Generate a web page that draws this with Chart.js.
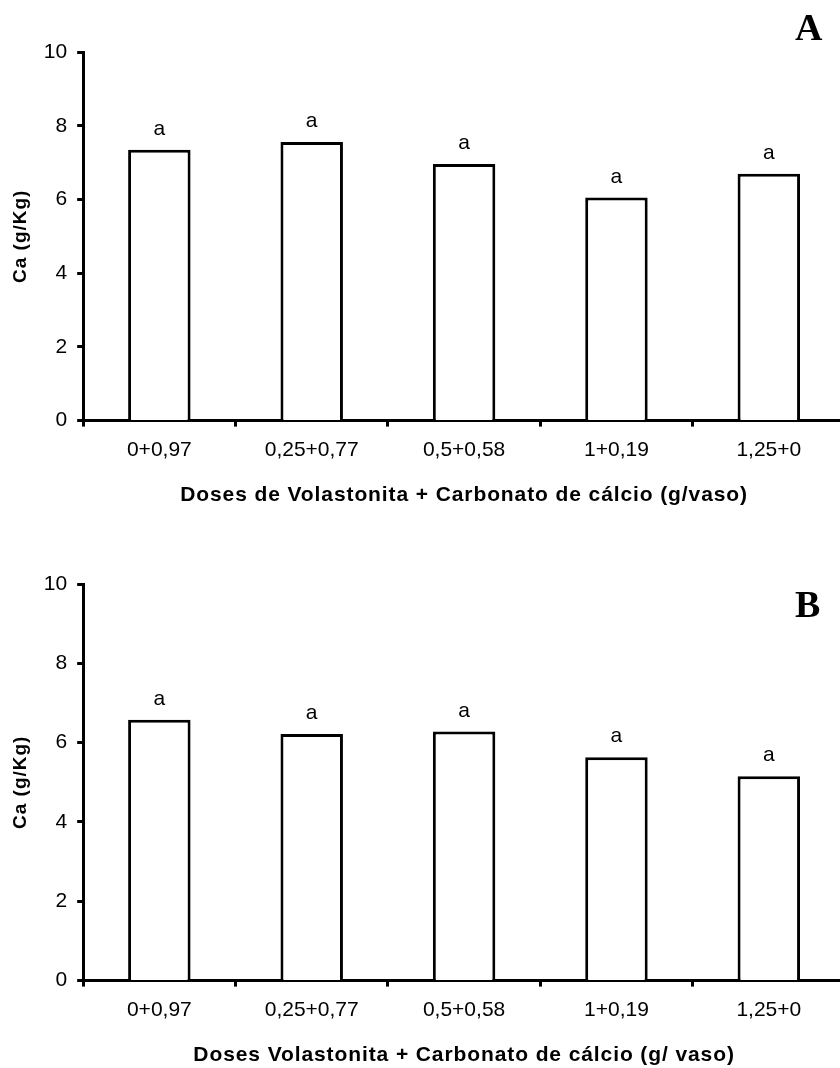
<!DOCTYPE html>
<html><head><meta charset="utf-8">
<script src="https://cdn.jsdelivr.net/npm/chart.js@4/dist/chart.umd.min.js"></script>
<style>
html,body{margin:0;padding:0;background:#fff;overflow:hidden;width:840px;height:1068px;position:relative;}
canvas{position:absolute;left:0;}
</style></head><body>
<canvas id="cA" width="846" height="534" style="top:0"></canvas>
<canvas id="cB" width="846" height="534" style="top:534px"></canvas>
<script>
const categories = ['0+0,97', '0,25+0,77', '0,5+0,58', '1+0,19', '1,25+0'];
const caA = [7.35, 7.56, 6.96, 6.05, 6.70];
const caB = [6.58, 6.22, 6.28, 5.63, 5.15];
const lettersA = ['a', 'a', 'a', 'a', 'a'];
const lettersB = ['a', 'a', 'a', 'a', 'a'];
const yTicks = [0, 2, 4, 6, 8, 10];
const yTitle = 'Ca (g/Kg)';
const xTitleA = 'Doses de Volastonita + Carbonato de cálcio (g/vaso)';
const xTitleB = 'Doses Volastonita + Carbonato de cálcio (g/ vaso)';

const SANS = '"Liberation Sans", Arial, sans-serif';
const X_TITLE_FONT = { family: SANS, size: 21, weight: 'bold' };
const Y_TITLE_FONT = { family: SANS, size: 19, weight: 'bold' };

const annot = {
  id: 'annot',
  afterDatasetsDraw(chart, args, opts) {
    const ctx = chart.ctx;
    const meta = chart.getDatasetMeta(0);
    ctx.save();
    ctx.fillStyle = '#000';
    ctx.font = '21px ' + SANS;
    ctx.textAlign = 'center';
    ctx.textBaseline = 'alphabetic';
    meta.data.forEach((bar, i) => ctx.fillText(opts.letters[i], bar.x, bar.y - 15));
    ctx.font = 'bold 38px "Liberation Serif", "Times New Roman", serif';
    ctx.textAlign = 'left';
    ctx.fillText(opts.panel, opts.px, opts.py);
    ctx.restore();
  },
  afterDraw(chart, args, opts) {
    const ctx = chart.ctx;
    const xs = chart.scales.x, ys = chart.scales.y;
    const ca = chart.chartArea;
    ctx.save();
    ctx.fillStyle = '#000';
    ctx.textAlign = 'center';
    ctx.textBaseline = 'middle';
    if ('letterSpacing' in ctx) ctx.letterSpacing = '0.9px';
    // x title
    const xf = Chart.helpers.toFont(xs.options.title.font);
    const xp = Chart.helpers.toPadding(xs.options.title.padding);
    ctx.font = xf.string;
    ctx.fillText(xs.options.title.text, (ca.left + ca.right) / 2, xs.bottom - xf.lineHeight / 2 - xp.bottom);
    // y title
    const yf = Chart.helpers.toFont(ys.options.title.font);
    const yp = Chart.helpers.toPadding(ys.options.title.padding);
    ctx.font = yf.string;
    if ('letterSpacing' in ctx) ctx.letterSpacing = '1px';
    ctx.translate(ys.left + yf.lineHeight / 2 + yp.top, (ca.top + ca.bottom) / 2);
    ctx.rotate(-Math.PI / 2);
    ctx.fillText(ys.options.title.text, 0, 0);
    ctx.restore();
  }
};

function makeChart(id, values, letters, xTitle, panel, py, padTop, padBottom) {
  return new Chart(document.getElementById(id), {
    type: 'bar',
    data: {
      labels: categories,
      datasets: [{
        data: values,
        backgroundColor: '#ffffff',
        borderColor: '#000000',
        borderWidth: 3,
        categoryPercentage: 1,
        barPercentage: 0.41
      }]
    },
    plugins: [annot],
    options: {
      responsive: false,
      animation: false,
      events: [],
      layout: { padding: { top: padTop, bottom: padBottom, left: 9, right: 1 } },
      plugins: {
        legend: { display: false },
        tooltip: { enabled: false },
        annot: { letters: letters, panel: panel, px: 795, py: py }
      },
      scales: {
        x: {
          grid: { display: true, drawOnChartArea: false, drawTicks: true, tickLength: 6, tickWidth: 3, tickColor: '#000', offset: true },
          border: { display: true, color: '#000', width: 3 },
          ticks: { color: '#000', font: { family: SANS, size: 21 }, padding: 11, maxRotation: 0 },
          title: { display: true, text: xTitle, color: 'rgba(0,0,0,0)', font: X_TITLE_FONT, padding: { top: 9, bottom: 0 } }
        },
        y: {
          min: 0, max: 10,
          afterBuildTicks: (s) => { s.ticks = yTicks.map(v => ({ value: v })); },
          grid: { display: true, drawOnChartArea: false, drawTicks: true, tickLength: 6, tickWidth: 3, tickColor: '#000' },
          border: { display: true, color: '#000', width: 3 },
          ticks: { color: '#000', font: { family: SANS, size: 21 }, padding: 10 },
          title: { display: true, text: yTitle, color: 'rgba(0,0,0,0)', font: Y_TITLE_FONT, padding: { top: 0, bottom: 2 } }
        }
      }
    }
  });
}

makeChart('cA', caA, lettersA, xTitleA, 'A', 40, 52, 26);
makeChart('cB', caB, lettersB, xTitleB, 'B', 617 - 534, 50, 0);
</script>
</body></html>
